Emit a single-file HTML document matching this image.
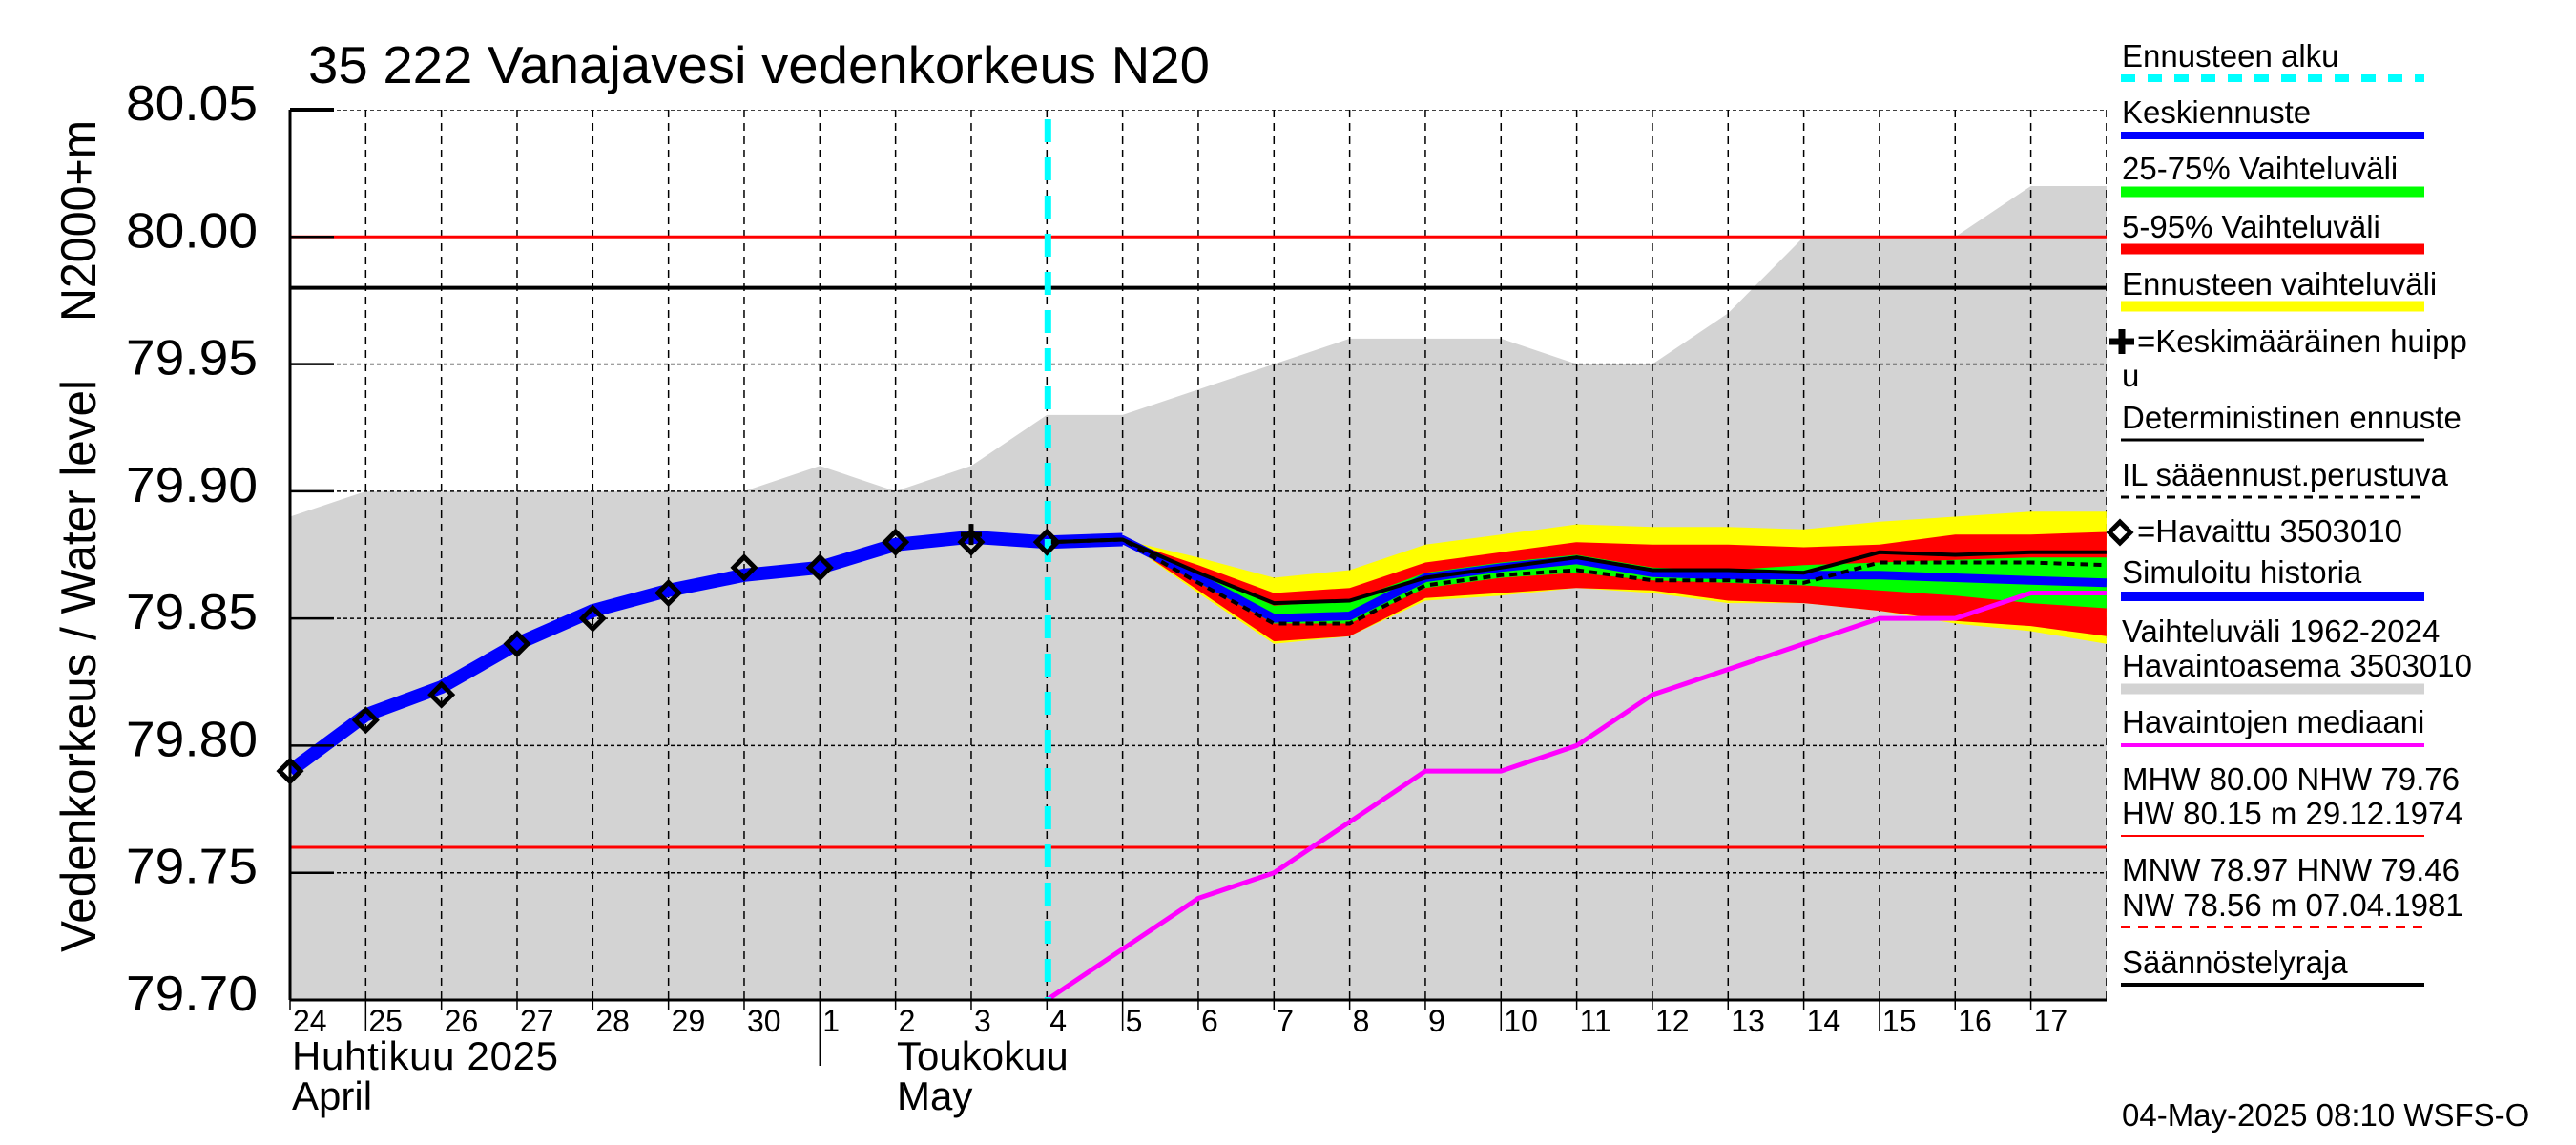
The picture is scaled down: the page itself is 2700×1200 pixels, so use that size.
<!DOCTYPE html>
<html><head><meta charset="utf-8"><style>
html,body{margin:0;padding:0;background:#fff}
svg{display:block}
text{font-family:"Liberation Sans",sans-serif;fill:#000}
</style></head><body>
<svg id="chart" xmlns="http://www.w3.org/2000/svg" width="2700" height="1200" viewBox="0 0 2700 1200">
<defs><clipPath id="plotclip"><rect x="304" y="115" width="1904" height="933"/></clipPath></defs>
<text x="323" y="87" font-size="55" textLength="945" lengthAdjust="spacingAndGlyphs">35 222 Vanajavesi vedenkorkeus N20</text>
<text transform="translate(100,998) rotate(-90)" font-size="52" textLength="600" lengthAdjust="spacingAndGlyphs">Vedenkorkeus / Water level</text>
<text transform="translate(100,337) rotate(-90)" font-size="52" textLength="211" lengthAdjust="spacingAndGlyphs">N2000+m</text>
<g id="plot" clip-path="url(#plotclip)"></g>
<g id="axes"></g>
<g id="legend"></g>
</svg>
<script>
const NS="http://www.w3.org/2000/svg";
// ---- data ----
const yTicks=[79.70,79.75,79.80,79.85,79.90,79.95,80.00,80.05];
const yTickLabels=["79.70","79.75","79.80","79.85","79.90","79.95","80.00","80.05"];
const dayLabels=["24","25","26","27","28","29","30","1","2","3","4","5","6","7","8","9","10","11","12","13","14","15","16","17"];
const grayMax=[79.89,79.90,79.90,79.90,79.90,79.90,79.90,79.91,79.90,79.91,79.93,79.93,79.94,79.95,79.96,79.96,79.96,79.95,79.95,79.97,80.00,80.00,80.00,80.02,80.02];
const observed=[79.79,79.81,79.82,79.84,79.85,79.86,79.87,79.87,79.88,79.88,79.88];
const simulated=[79.79,79.812,79.823,79.84,79.853,79.861,79.867,79.87,79.879,79.882,79.88,79.881];
const fcStart=10;
const yellowTop=[79.880,79.881,79.874,79.866,79.869,79.879,79.883,79.887,79.886,79.886,79.885,79.888,79.890,79.892,79.892];
const redTop=[79.880,79.881,79.871,79.860,79.862,79.872,79.876,79.880,79.879,79.879,79.878,79.879,79.883,79.883,79.884];
const greenTop=[79.880,79.881,79.868,79.855,79.857,79.868,79.872,79.875,79.870,79.869,79.871,79.872,79.873,79.874,79.874];
const meanFc=[79.880,79.881,79.866,79.850,79.851,79.866,79.870,79.873,79.868,79.867,79.867,79.867,79.866,79.865,79.864];
const greenBot=[79.880,79.881,79.864,79.848,79.848,79.862,79.866,79.868,79.865,79.864,79.863,79.861,79.859,79.856,79.854];
const redBot=[79.880,79.881,79.861,79.841,79.843,79.858,79.860,79.862,79.861,79.857,79.856,79.853,79.849,79.847,79.843];
const yellowBot=[79.880,79.881,79.860,79.840,79.843,79.857,79.859,79.862,79.860,79.856,79.856,79.853,79.848,79.845,79.840];
const detFc=[79.880,79.881,79.868,79.856,79.857,79.866,79.870,79.874,79.869,79.869,79.868,79.876,79.875,79.876,79.876];
const ilFc=[79.880,79.881,79.864,79.848,79.848,79.863,79.867,79.869,79.865,79.865,79.864,79.872,79.872,79.872,79.871];
const median=[79.70,79.72,79.74,79.75,79.77,79.79,79.79,79.80,79.82,79.83,79.84,79.85,79.85,79.86,79.86];
const peakDay=9, peakVal=79.883;
const hLinesRed=[80.00,79.76], hLineBlack=79.98;
// ---- scales ----
const X0=304,DW=79.33,Y0=1048,YT=115,VMIN=79.70,VMAX=80.05;
const xs=d=>X0+d*DW;
const ys=v=>Y0-(v-VMIN)/(VMAX-VMIN)*(Y0-YT);
function el(tag,attrs,parent){const e=document.createElementNS(NS,tag);for(const k in attrs)e.setAttribute(k,attrs[k]);parent.appendChild(e);return e;}
const plot=document.getElementById('plot'),axes=document.getElementById('axes'),leg=document.getElementById('legend');
function pts(arr,off){return arr.map((v,i)=>xs(i+off).toFixed(1)+","+ys(v).toFixed(1)).join(" ");}
function band(top,bot,off){return pts(top,off)+" "+bot.map((v,i)=>[xs(i+off),ys(v)]).reverse().map(p=>p[0].toFixed(1)+","+p[1].toFixed(1)).join(" ");}
// gray range
let g=el('polygon',{points:pts(grayMax,0)+" "+xs(grayMax.length-1)+","+(Y0+20)+" "+xs(0)+","+(Y0+20),fill:"#d3d3d3"},plot);

// grid
for(let d=1;d<=24;d++){const l=el('line',{x1:xs(d),x2:xs(d),y1:YT,y2:Y0,stroke:"#000","stroke-width":1.5,"stroke-dasharray":"8,6"},plot);
}
yTicks.forEach(v=>{if(v<=VMIN)return;const l=el('line',{x1:X0,x2:2208,y1:ys(v),y2:ys(v),stroke:"#000","stroke-width":1.5,"stroke-dasharray":"4,3"},plot);
});
// ref lines
hLinesRed.forEach(v=>{const l=el('line',{x1:X0,x2:2208,y1:ys(v),y2:ys(v),stroke:"#f00","stroke-width":3},plot);
});
let bl=el('line',{x1:X0,x2:2208,y1:ys(hLineBlack),y2:ys(hLineBlack),stroke:"#000","stroke-width":4},plot);

// bands
let b1=el('polygon',{points:band(yellowTop,yellowBot,fcStart),fill:"#ff0"},plot);

let b2=el('polygon',{points:band(redTop,redBot,fcStart),fill:"#f00"},plot);

let b3=el('polygon',{points:band(greenTop,greenBot,fcStart),fill:"#0f0"},plot);

let mf=el('polyline',{points:pts(meanFc,fcStart),fill:"none",stroke:"#00f","stroke-width":9},plot);

// median
let md=el('polyline',{points:pts(median,fcStart),fill:"none",stroke:"#f0f","stroke-width":5},plot);

let sh=el('polyline',{points:pts(simulated,0),fill:"none",stroke:"#00f","stroke-width":14,"stroke-linejoin":"round"},plot);

let dt=el('polyline',{points:pts(detFc,fcStart),fill:"none",stroke:"#000","stroke-width":4},plot);

let il=el('polyline',{points:pts(ilFc,fcStart),fill:"none",stroke:"#000","stroke-width":4,"stroke-dasharray":"8,6"},plot);

// cyan forecast start
let cy=el('line',{x1:xs(fcStart)+1,x2:xs(fcStart)+1,y1:125,y2:Y0,stroke:"#0ff","stroke-width":7,"stroke-dasharray":"24,16"},axes);

// observed markers
observed.forEach((v,i)=>{const x=xs(i),y=ys(v);const m=el('polygon',{points:`${x},${y-11} ${x+11},${y} ${x},${y+11} ${x-11},${y}`,fill:"none",stroke:"#000","stroke-width":5},axes);
});
let pk=el('path',{d:`M${xs(peakDay)-11},${ys(peakVal)}h22M${xs(peakDay)},${ys(peakVal)-11}v22`,stroke:"#000","stroke-width":5},axes);

// axes
el('line',{x1:X0,x2:X0,y1:YT,y2:Y0,stroke:"#000","stroke-width":3},axes);
el('line',{x1:X0,x2:2208,y1:Y0,y2:Y0,stroke:"#000","stroke-width":3},axes);
yTicks.forEach((v,i)=>{
el('line',{x1:X0,x2:X0+46,y1:ys(v),y2:ys(v),stroke:"#000","stroke-width":v>=80.05?4:2.5},axes);
const t=el('text',{x:270,y:ys(v)+11,"font-size":52,"text-anchor":"end",textLength:138,lengthAdjust:"spacingAndGlyphs"},axes);t.textContent=yTickLabels[i];
});
dayLabels.forEach((s,i)=>{const x=xs(i);const long=(s==="25"||s==="5"||s==="10"||s==="15");const y2=s==="1"?1117:(long?1081:1058);
el('line',{x1:x,x2:x,y1:Y0,y2:y2,stroke:"#000","stroke-width":1.5},axes);
const t=el('text',{x:x+3,y:1081,"font-size":32},axes);t.textContent=s;
});
[["Huhtikuu  2025",306,1121,279],["April",306,1163,0],["Toukokuu",940,1121,0],["May",940,1163,0]].forEach(a=>{const t=el('text',{x:a[1],y:a[2],"font-size":42},axes);t.textContent=a[0];
if(a[3])t.setAttribute('textLength',a[3]);
});
// legend
const LX=2224,LX1=2223,LX2=2541;
function lt(s,y,x){const t=el('text',{x:x||LX,y:y,"font-size":33},leg);t.textContent=s;return t;}
function ll(y,c,w,dash){const l=el('line',{x1:LX1,x2:LX2,y1:y,y2:y,stroke:c,"stroke-width":w},leg);if(dash)l.setAttribute('stroke-dasharray',dash);}
lt("Ennusteen alku",70);ll(82,"#0ff",8,"15,13");
lt("Keskiennuste",129);ll(142,"#00f",8);
lt("25-75% Vaihteluväli",188);ll(201,"#0f0",11);
lt("5-95% Vaihteluväli",249);ll(261,"#f00",11);
lt("Ennusteen vaihteluväli",309);ll(321,"#ff0",11);
el('path',{d:"M2211,358h26M2224,345v26",stroke:"#000","stroke-width":7},leg);
lt("=Keskimääräinen huipp",369,2240);lt("u",405);
lt("Deterministinen ennuste",449);ll(461,"#000",3);
lt("IL sääennust.perustuva",509);ll(521,"#000",3,"9,7");
el('polygon',{points:"2222,547 2233,558 2222,569 2211,558",fill:"none",stroke:"#000","stroke-width":5},leg);
lt("=Havaittu 3503010",568,2240);
lt("Simuloitu historia",611);ll(625,"#00f",10);
lt("Vaihteluväli 1962-2024",673);lt(" Havaintoasema 3503010",709);ll(722,"#d3d3d3",11);
lt("Havaintojen mediaani",768);ll(781,"#f0f",4);
lt("MHW  80.00 NHW  79.76",828);lt("HW  80.15 m 29.12.1974",864);ll(876,"#f00",2);
lt("MNW  78.97 HNW  79.46",923);lt("NW  78.56 m 07.04.1981",960);ll(972,"#f00",2,"10,8");
lt("Säännöstelyraja",1020);ll(1032,"#000",4);
const ft=lt("04-May-2025 08:10 WSFS-O",1180);
</script>
</body></html>
